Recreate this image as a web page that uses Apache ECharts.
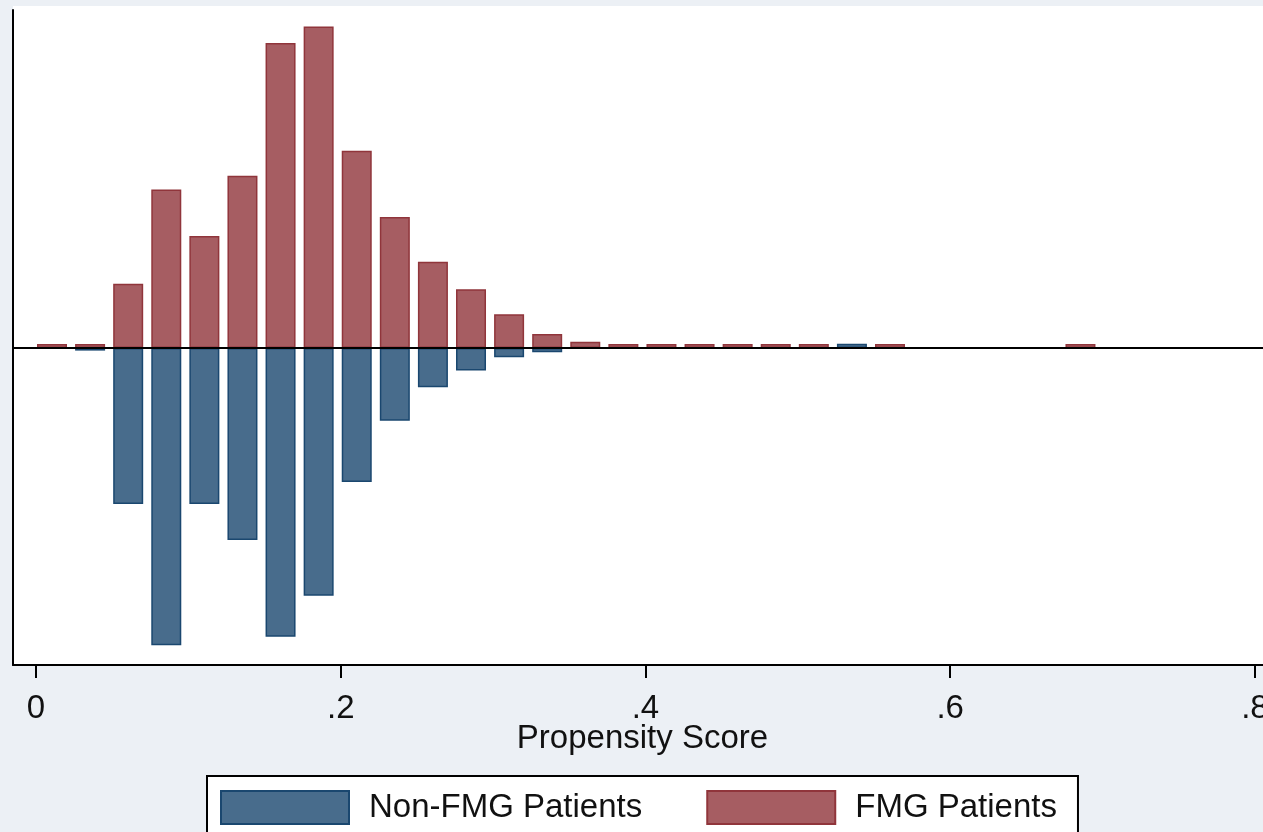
<!DOCTYPE html>
<html>
<head>
<meta charset="utf-8">
<script src="https://cdn.jsdelivr.net/npm/echarts@6/dist/echarts.min.js"></script>
<style>
  html, body { margin: 0; padding: 0; background: #ecf0f5; }
  #chart { width: 1263px; height: 832px; }
</style>
</head>
<body>
<div id="chart"></div>
<script>
// Bin centres of the propensity-score histogram (bin width 0.025)
var binCenters = [0.0105, 0.0355, 0.0605, 0.0855, 0.1105, 0.1355, 0.1605, 0.1855,
                  0.2105, 0.2355, 0.2605, 0.2855, 0.3105, 0.3355, 0.3605, 0.3855,
                  0.4105, 0.4355, 0.4605, 0.4855, 0.5105, 0.5355, 0.5605, 0.6855];
// FMG patients (drawn upward), density
var fmgDensity = [0.095, 0.095, 1.52, 3.75, 2.65, 4.08, 7.22, 7.61,
                  4.67, 3.10, 2.04, 1.39, 0.80, 0.33, 0.15, 0.095,
                  0.095, 0.095, 0.095, 0.095, 0.095, null, 0.095, 0.095];
// Non-FMG patients (mirrored downward), density
var nonFmgDensity = [null, -0.06, -3.69, -7.03, -3.69, -4.54, -6.83, -5.86,
                     -3.17, -1.72, -0.93, -0.53, -0.22, -0.10, null, null,
                     null, null, null, null, null, 0.10, null, null];
var seriesNames = ['Non-FMG Patients', 'FMG Patients'];
var tickValues = [0, 0.2, 0.4, 0.6, 0.8];
var tickLabels = ['0', '.2', '.4', '.6', '.8'];
var xTitle = 'Propensity Score';

function pairs(xs, ys) {
  return xs.map(function (x, i) { return [x, ys[i]]; });
}

var FONT = 'Liberation Sans, Arial, sans-serif';
var chart = echarts.init(document.getElementById('chart'), null, { renderer: 'canvas' });
chart.setOption({
  animation: false,
  backgroundColor: '#ecf0f5',
  graphic: [{
    type: 'rect', z: -10, silent: true,
    shape: { x: 13, y: 6, width: 1250, height: 659 },
    style: { fill: '#ffffff' }
  }],
  grid: {
    left: 13, right: 0, top: 10, bottom: 167,
    containLabel: false,
    outerBoundsMode: 'none',
    show: true, backgroundColor: '#ffffff', borderWidth: 0
  },
  legend: {
    data: seriesNames,
    left: 207, top: 776,
    orient: 'horizontal',
    icon: 'rect',
    itemWidth: 128, itemHeight: 33, itemGap: 64,
    padding: [14, 21, 20, 13],
    backgroundColor: '#ffffff',
    borderColor: '#000000', borderWidth: 2,
    textStyle: { fontFamily: FONT, fontSize: 33, color: '#111111', padding: [0, 0, 0, 15] }
  },
  xAxis: {
    type: 'value',
    min: -0.0151, max: 0.8053,
    name: xTitle,
    nameLocation: 'middle',
    nameGap: 57,
    nameMoveOverlap: false,
    nameTextStyle: { fontFamily: FONT, fontSize: 33, color: '#111111', padding: [0, 0, 0, 9] },
    axisLine: { show: true, onZero: false, lineStyle: { color: '#000000', width: 2 } },
    axisTick: { show: true, customValues: tickValues, length: 13, lineStyle: { color: '#000000', width: 2 } },
    axisLabel: {
      show: true, customValues: tickValues, margin: 27,
      fontFamily: FONT, fontSize: 33, color: '#111111',
      formatter: function (v) {
        var i = tickValues.indexOf(v);
        return i >= 0 ? tickLabels[i] : '';
      }
    },
    splitLine: { show: false }
  },
  yAxis: {
    type: 'value',
    min: -7.5, max: 8,
    axisLine: { show: true, onZero: false, lineStyle: { color: '#000000', width: 2 } },
    axisTick: { show: false },
    axisLabel: { show: false },
    splitLine: { show: false }
  },
  series: [
    {
      name: seriesNames[0],
      type: 'bar',
      data: pairs(binCenters, nonFmgDensity),
      barWidth: 30,
      barGap: '-100%',
      itemStyle: { color: '#486c8c', borderColor: '#1a476f', borderWidth: 1.5 }
    },
    {
      name: seriesNames[1],
      type: 'bar',
      data: pairs(binCenters, fmgDensity),
      barWidth: 30,
      barGap: '-100%',
      itemStyle: { color: '#a65d62', borderColor: '#90353b', borderWidth: 1.5 },
      markLine: {
        silent: true, symbol: 'none',
        label: { show: false },
        lineStyle: { color: '#000000', width: 2, type: 'solid' },
        data: [{ yAxis: 0 }]
      }
    }
  ]
});
</script>
</body>
</html>
